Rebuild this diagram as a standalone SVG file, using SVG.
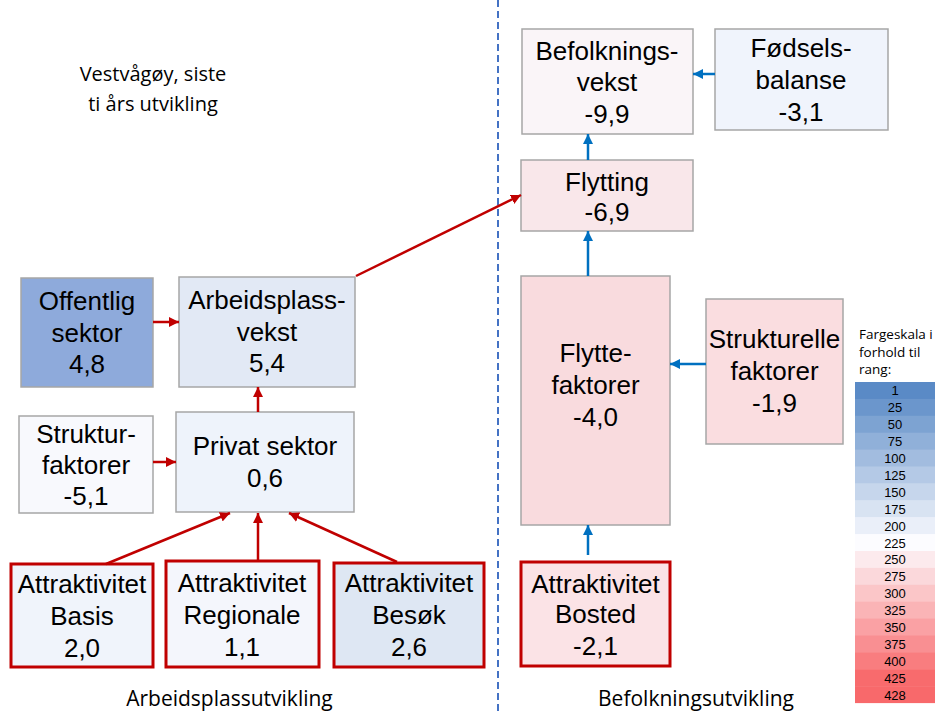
<svg xmlns="http://www.w3.org/2000/svg" width="935" height="713" viewBox="0 0 935 713">
<defs>
<marker id="ar" viewBox="0 0 10 10" refX="10" refY="5" markerWidth="10" markerHeight="11" markerUnits="userSpaceOnUse" orient="auto"><path d="M0,0 L10,5 L0,10 z" fill="#c00000"/></marker>
<marker id="ab" viewBox="0 0 10 10" refX="10" refY="5" markerWidth="10" markerHeight="11" markerUnits="userSpaceOnUse" orient="auto"><path d="M0,0 L10,5 L0,10 z" fill="#0070c0"/></marker>
</defs>
<style>
.n{stroke:#a6a6a6;stroke-width:1.5}
.r{stroke:#c00000;stroke-width:3}
.t{font-family:"Liberation Sans",Arial,sans-serif;font-size:26px;fill:#000;text-anchor:middle}
.c{font-family:"Open Sans","Liberation Sans",sans-serif;fill:#000}
.lg{font-family:"Liberation Sans",Arial,sans-serif;font-size:13px;fill:#000;text-anchor:middle}
.er{stroke:#c00000;stroke-width:2.5;fill:none;marker-end:url(#ar)}
.eb{stroke:#0070c0;stroke-width:2.5;fill:none;marker-end:url(#ab)}
</style>
<rect width="935" height="713" fill="#fff"/>
<line x1="498" y1="0" x2="498" y2="713" stroke="#4472c4" stroke-width="2" stroke-dasharray="7 4"/>
<g id="title"><text class="c" font-size="20" text-anchor="middle"><tspan x="153" y="81">Vestvågøy, siste</tspan><tspan x="153" y="111">ti års utvikling</tspan></text></g>
<g id="offentlig"><rect class="n" x="21" y="278" width="132" height="109" fill="#8eaadb"/><text class="t"><tspan x="87" y="310">Offentlig</tspan><tspan x="87" y="342">sektor</tspan><tspan x="87" y="373">4,8</tspan></text></g>
<g id="arbeidsplass"><rect class="n" x="179" y="277" width="176" height="110" fill="#e2e9f5"/><text class="t"><tspan x="267" y="309">Arbeidsplass-</tspan><tspan x="267" y="341">vekst</tspan><tspan x="267" y="372">5,4</tspan></text></g>
<g id="struktur"><rect class="n" x="19" y="416" width="134" height="97" fill="#f8f9fd"/><text class="t"><tspan x="86" y="443">Struktur-</tspan><tspan x="86" y="474">faktorer</tspan><tspan x="86" y="505">-5,1</tspan></text></g>
<g id="privat"><rect class="n" x="176" y="412" width="178" height="100" fill="#eef3fb"/><text class="t"><tspan x="265" y="455">Privat sektor</tspan><tspan x="265" y="487">0,6</tspan></text></g>
<g id="basis"><rect class="r" x="11" y="564" width="142" height="103" fill="#f0f4fb"/><text class="t"><tspan x="82" y="593">Attraktivitet</tspan><tspan x="82" y="625">Basis</tspan><tspan x="82" y="657">2,0</tspan></text></g>
<g id="regionale"><rect class="r" x="166" y="561" width="153" height="106" fill="#f4f6fc"/><text class="t"><tspan x="242" y="592">Attraktivitet</tspan><tspan x="242" y="624">Regionale</tspan><tspan x="242" y="656">1,1</tspan></text></g>
<g id="besok"><rect class="r" x="334" y="563" width="150" height="104" fill="#dee7f3"/><text class="t"><tspan x="409" y="592">Attraktivitet</tspan><tspan x="409" y="624">Besøk</tspan><tspan x="409" y="656">2,6</tspan></text></g>
<g id="befvekst"><rect class="n" x="522" y="29" width="171" height="105" fill="#faf5f8"/><text class="t"><tspan x="607" y="60">Befolknings-</tspan><tspan x="607" y="91">vekst</tspan><tspan x="607" y="123">-9,9</tspan></text></g>
<g id="fodsel"><rect class="n" x="715" y="29" width="173" height="101" fill="#f0f4fc"/><text class="t"><tspan x="801" y="57">Fødsels-</tspan><tspan x="801" y="89">balanse</tspan><tspan x="801" y="121">-3,1</tspan></text></g>
<g id="flytting"><rect class="n" x="521" y="160" width="172" height="71" fill="#f9e7ea"/><text class="t"><tspan x="607" y="191">Flytting</tspan><tspan x="607" y="221">-6,9</tspan></text></g>
<g id="flyttefaktorer"><rect class="n" x="521" y="276" width="149" height="249" fill="#f9dbde"/><text class="t"><tspan x="595.5" y="362">Flytte-</tspan><tspan x="595.5" y="394">faktorer</tspan><tspan x="595.5" y="426">-4,0</tspan></text></g>
<g id="strukturelle"><rect class="n" x="706" y="299" width="137" height="145" fill="#fadde0"/><text class="t"><tspan x="774.5" y="348">Strukturelle</tspan><tspan x="774.5" y="380">faktorer</tspan><tspan x="774.5" y="412">-1,9</tspan></text></g>
<g id="bosted"><rect class="r" x="521" y="562" width="149" height="104" fill="#fbe3e6"/><text class="t"><tspan x="595.5" y="593">Attraktivitet</tspan><tspan x="595.5" y="623">Bosted</tspan><tspan x="595.5" y="655">-2,1</tspan></text></g>
<g id="connectors">
<line class="er" x1="153" y1="322" x2="179" y2="322"/>
<line class="er" x1="153" y1="462" x2="176" y2="462"/>
<line class="er" x1="258" y1="412" x2="258" y2="387"/>
<line class="er" x1="106" y1="564" x2="230" y2="513"/>
<line class="er" x1="258" y1="561" x2="258" y2="513"/>
<line class="er" x1="397" y1="562" x2="289" y2="513"/>
<line class="er" x1="356" y1="276" x2="521" y2="195"/>
<line class="eb" x1="715" y1="74" x2="693" y2="74"/>
<line class="eb" x1="588" y1="160" x2="588" y2="134"/>
<line class="eb" x1="588" y1="276" x2="588" y2="231"/>
<line class="eb" x1="706" y1="364" x2="670" y2="364"/>
<line class="eb" x1="588" y1="555" x2="588" y2="525"/>
</g>
<g id="labels">
<text class="c" font-size="21" text-anchor="middle" x="229.5" y="706">Arbeidsplassutvikling</text>
<text class="c" font-size="21" text-anchor="middle" x="696" y="706">Befolkningsutvikling</text>
</g>
<g id="legend">
<text class="c" font-size="13.5"><tspan x="859" y="339">Fargeskala i</tspan><tspan x="859" y="357">forhold til</tspan><tspan x="859" y="374">rang:</tspan></text>
<rect x="855" y="382" width="80" height="17.4" fill="#5a8ac6"/>
<rect x="855" y="398.9" width="80" height="17.4" fill="#6b96cc"/>
<rect x="855" y="415.8" width="80" height="17.4" fill="#7da3d2"/>
<rect x="855" y="432.7" width="80" height="17.4" fill="#90b0d9"/>
<rect x="855" y="449.6" width="80" height="17.4" fill="#a2bcdf"/>
<rect x="855" y="466.5" width="80" height="17.4" fill="#b4c9e6"/>
<rect x="855" y="483.4" width="80" height="17.4" fill="#c6d6ec"/>
<rect x="855" y="500.3" width="80" height="17.4" fill="#d8e3f2"/>
<rect x="855" y="517.2" width="80" height="17.4" fill="#eaeff9"/>
<rect x="855" y="534.1" width="80" height="17.4" fill="#fcfcff"/>
<rect x="855" y="551" width="80" height="17.4" fill="#fceaed"/>
<rect x="855" y="567.9" width="80" height="17.4" fill="#fbd8db"/>
<rect x="855" y="584.8" width="80" height="17.4" fill="#fbc6c8"/>
<rect x="855" y="601.7" width="80" height="17.4" fill="#fab4b6"/>
<rect x="855" y="618.6" width="80" height="17.4" fill="#faa1a4"/>
<rect x="855" y="635.5" width="80" height="17.4" fill="#f98f92"/>
<rect x="855" y="652.4" width="80" height="17.4" fill="#f97d7f"/>
<rect x="855" y="669.3" width="80" height="17.4" fill="#f86b6d"/>
<rect x="855" y="686.2" width="80" height="16.9" fill="#f8696b"/>
<text class="lg" x="895" y="395">1</text>
<text class="lg" x="895" y="412">25</text>
<text class="lg" x="895" y="429">50</text>
<text class="lg" x="895" y="446">75</text>
<text class="lg" x="895" y="463">100</text>
<text class="lg" x="895" y="480">125</text>
<text class="lg" x="895" y="497">150</text>
<text class="lg" x="895" y="513.5">175</text>
<text class="lg" x="895" y="530.5">200</text>
<text class="lg" x="895" y="547.5">225</text>
<text class="lg" x="895" y="564">250</text>
<text class="lg" x="895" y="581">275</text>
<text class="lg" x="895" y="598">300</text>
<text class="lg" x="895" y="615">325</text>
<text class="lg" x="895" y="632">350</text>
<text class="lg" x="895" y="649">375</text>
<text class="lg" x="895" y="665.5">400</text>
<text class="lg" x="895" y="682.5">425</text>
<text class="lg" x="895" y="699.5">428</text>
</g>
</svg>
